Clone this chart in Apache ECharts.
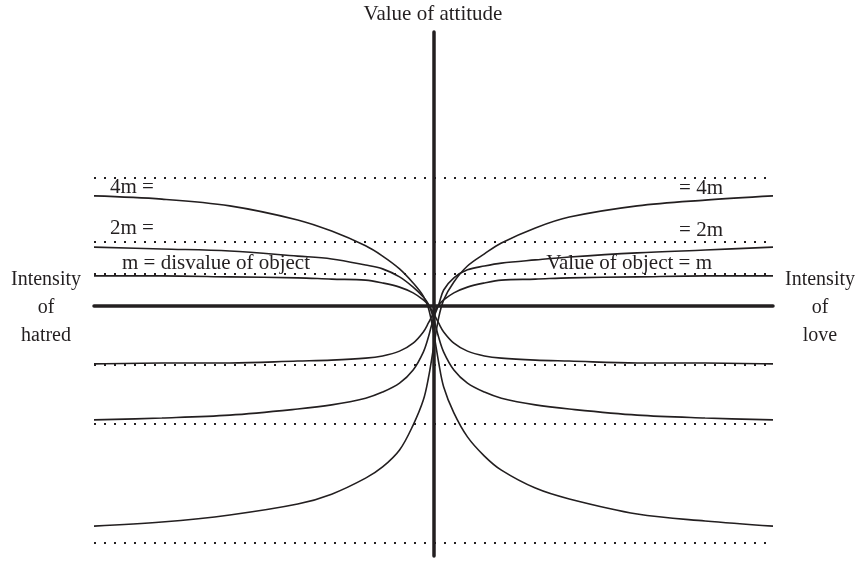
<!DOCTYPE html>
<html>
<head>
<meta charset="utf-8">
<script src="https://cdn.jsdelivr.net/npm/echarts@6/dist/echarts.min.js"></script>
<style>
  html, body { margin: 0; padding: 0; background: #fff; }
  #chart { width: 867px; height: 579px; }
</style>
</head>
<body>
<div id="chart"></div>
<script>
// intensity: negative = hatred, positive = love
const intensity = [-10, -8, -6, -4, -3, -2, -1.5, -1, -0.6, -0.3, -0.15, 0,
                   0.15, 0.3, 0.6, 1, 1.5, 2, 3, 4, 6, 8, 10];

// value of attitude, in units of m
const fall4m = [3.44, 3.34, 3.13, 2.69, 2.34, 1.88, 1.56, 1.16, 0.72, 0.31, -0.06, -0.81,
                -1.75, -2.53, -3.34, -4.09, -4.69, -5.13, -5.69, -6.03, -6.5, -6.72, -6.88];
const fall2m = [1.84, 1.78, 1.72, 1.56, 1.47, 1.28, 1.16, 0.91, 0.59, 0.28, 0.06, -0.38,
                -0.97, -1.44, -2.0, -2.41, -2.69, -2.88, -3.09, -3.22, -3.41, -3.5, -3.56];
const fallM  = [0.94, 0.94, 0.91, 0.88, 0.84, 0.81, 0.72, 0.59, 0.41, 0.19, 0.03, -0.22,
                -0.53, -0.81, -1.16, -1.41, -1.56, -1.63, -1.69, -1.72, -1.78, -1.78, -1.81];
const rise4m = [-6.88, -6.75, -6.53, -6.19, -5.88, -5.38, -5.03, -4.5, -3.72, -2.94, -2.25, -1.31,
                -0.38, 0.19, 0.75, 1.25, 1.63, 1.97, 2.44, 2.78, 3.13, 3.31, 3.44];
const rise2m = [-3.56, -3.5, -3.41, -3.22, -3.09, -2.88, -2.69, -2.41, -2.0, -1.44, -0.97, -0.38,
                0.03, 0.5, 0.88, 1.13, 1.25, 1.34, 1.44, 1.53, 1.66, 1.75, 1.84];
const riseM  = [-1.81, -1.78, -1.78, -1.72, -1.69, -1.63, -1.56, -1.41, -1.16, -0.81, -0.53, -0.22,
                0.03, 0.19, 0.41, 0.59, 0.72, 0.81, 0.84, 0.88, 0.91, 0.94, 0.94];

// dotted reference levels (m, 2m, 4m above; disvalue levels below)
const levels = [4, 2, 1, -1.84, -3.69, -7.41];

const INK = '#231f20';
const FONT = '"Liberation Serif", serif';

const curve = (vals) => ({
    type: 'line',
    data: intensity.map((x, i) => [x, vals[i]]),
    showSymbol: false,
    smooth: 0.35,
    lineStyle: { color: INK, width: 1.6 },
    silent: true,
    z: 3,
});

const dotted = levels.map(v => ({
    type: 'line',
    data: [[-10, v], [10, v]],
    showSymbol: false,
    lineStyle: { color: INK, width: 2, type: [2, 8] },
    silent: true,
    z: 2,
}));

const txt = (text, x, y, align, extra) => ({
    type: 'text',
    x: x, y: y,
    style: Object.assign({
        text: text,
        fill: INK,
        font: '21px ' + FONT,
        align: align,
        verticalAlign: 'middle',
    }, extra || {}),
});

const chart = echarts.init(document.getElementById('chart'), null, { renderer: 'canvas' });

chart.setOption({
    animation: false,
    backgroundColor: '#fff',
    grid: { left: 94, right: 94, top: 32, bottom: 23 },
    xAxis: {
        type: 'value', min: -10, max: 10,
        axisLine: { show: true, onZero: true, lineStyle: { color: INK, width: 3.5 } },
        axisTick: { show: false }, axisLabel: { show: false }, splitLine: { show: false },
    },
    yAxis: {
        type: 'value', min: -7.8125, max: 8.5625,
        axisLine: { show: true, onZero: true, lineStyle: { color: INK, width: 3.5 } },
        axisTick: { show: false }, axisLabel: { show: false }, splitLine: { show: false },
    },
    series: [
        ...dotted,
        curve(fall4m), curve(fall2m), curve(fallM),
        curve(rise4m), curve(rise2m), curve(riseM),
    ],
    graphic: [
        txt('Value of attitude', 433, 14, 'center'),
        txt('4m =', 110, 187, 'left'),
        txt('2m =', 110, 228, 'left'),
        txt('m = disvalue of object', 122, 263, 'left'),
        txt('= 4m', 723, 188, 'right'),
        txt('= 2m', 723, 230, 'right'),
        txt('Value of object = m', 712, 263, 'right'),
        txt('Intensity\nof\nhatred', 46, 308, 'center', { lineHeight: 28, font: '20px ' + FONT }),
        txt('Intensity\nof\nlove', 820, 308, 'center', { lineHeight: 28, font: '20px ' + FONT }),
    ],
});
</script>
</body>
</html>
